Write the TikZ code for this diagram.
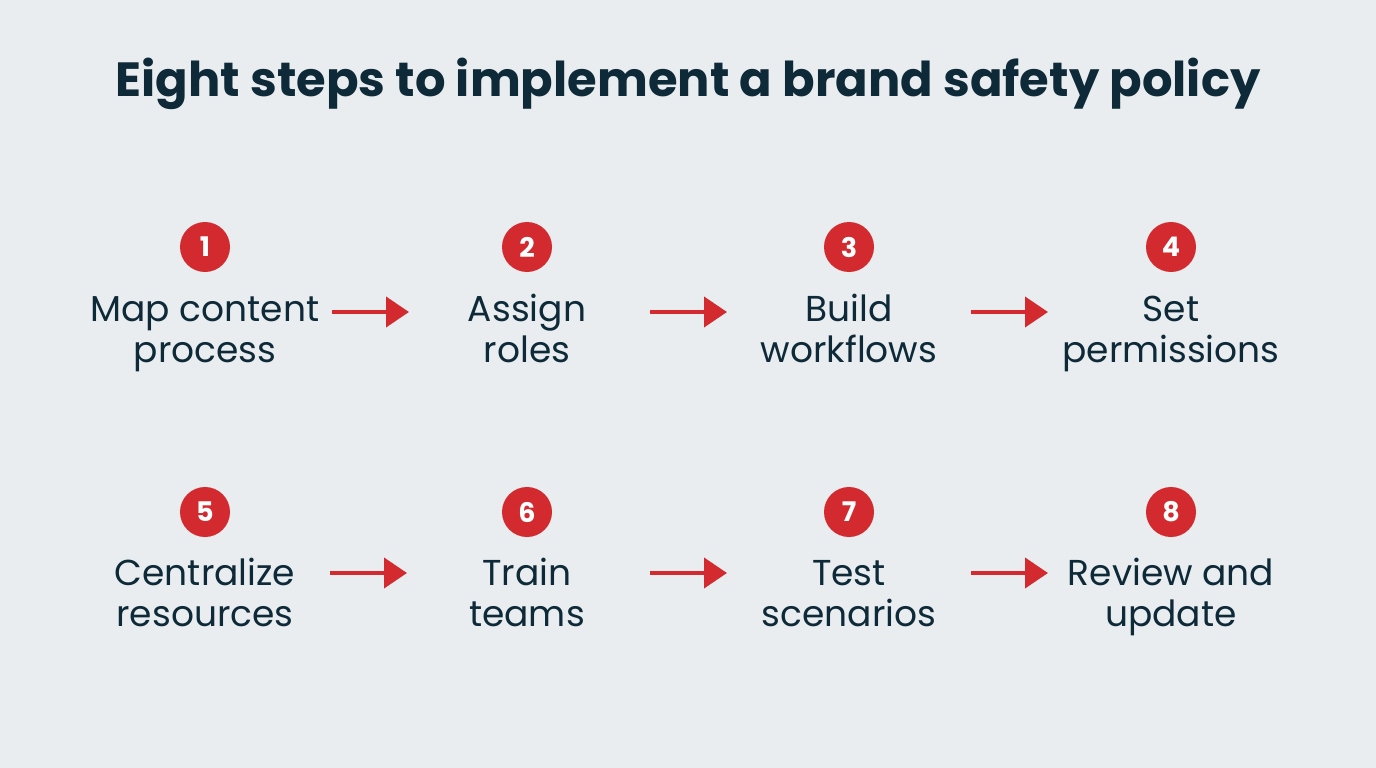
\documentclass[tikz,border=0pt]{standalone}
\usepackage{fontspec}
\setmainfont{Poppins}
\usetikzlibrary{arrows.meta}
\definecolor{bg}{HTML}{E9EDF0}
\definecolor{ink}{HTML}{0E2A38}
\definecolor{stepred}{HTML}{D22A2E}
\newcommand{\toplinestrut}{\rule{0pt}{30pt}}
\newcommand{\botlinestrut}{\rule[-12pt]{0pt}{12pt}}
\tikzset{
  numdot/.style={circle, fill=stepred, minimum size=50pt, inner sep=0pt, text=white, font=\fontsize{27}{27}\selectfont\bfseries},
  steplabel/.style={text=ink, align=center, anchor=north, font=\fontsize{36}{41}\selectfont, inner sep=0pt},
  steparrow/.style={draw=stepred, line width=4pt, -{Triangle[length=23pt,width=30pt]}}
}
\begin{document}
\begin{tikzpicture}[x=1pt,y=-1pt]
\fill[bg] (0,0) rectangle (1376,768);
\useasboundingbox (0,0) rectangle (1376,768);
\node[text=ink, anchor=base, inner sep=0pt, font=\fontsize{48}{48}\selectfont\bfseries] (title) at (688,96) {Eight steps to implement a brand safety policy};
% row 1
\node[numdot] (n1) at (205,247) {1};
\node[numdot] (n2) at (527,247) {2};
\node[numdot] (n3) at (849,247) {3};
\node[numdot] (n4) at (1171,247) {4};
\node[steplabel] (l1) at (205,291) {\toplinestrut Map content\\process\botlinestrut};
\node[steplabel] (l2) at (527,291) {\toplinestrut Assign\\roles\botlinestrut};
\node[steplabel] (l3) at (849,291) {\toplinestrut Build\\workflows\botlinestrut};
\node[steplabel] (l4) at (1171,291) {\toplinestrut Set\\permissions\botlinestrut};
% row 2
\node[numdot] (n5) at (205,512) {5};
\node[numdot] (n6) at (527,512) {6};
\node[numdot] (n7) at (849,512) {7};
\node[numdot] (n8) at (1171,512) {8};
\node[steplabel] (l5) at (205,555) {\toplinestrut Centralize\\resources\botlinestrut};
\node[steplabel] (l6) at (527,555) {\toplinestrut Train\\teams\botlinestrut};
\node[steplabel] (l7) at (849,555) {\toplinestrut Test\\scenarios\botlinestrut};
\node[steplabel] (l8) at (1171,555) {\toplinestrut Review and\\update\botlinestrut};
% arrow ends
\coordinate (a1s) at (332,312); \coordinate (a1e) at (409,312);
\coordinate (a2s) at (650,312); \coordinate (a2e) at (727,312);
\coordinate (a3s) at (971,312); \coordinate (a3e) at (1048,312);
\coordinate (a5s) at (330,573); \coordinate (a5e) at (407,573);
\coordinate (a6s) at (650,573); \coordinate (a6e) at (727,573);
\coordinate (a7s) at (971,573); \coordinate (a7e) at (1048,573);
\draw[steparrow] (a1s) -- (a1e);
\draw[steparrow] (a2s) -- (a2e);
\draw[steparrow] (a3s) -- (a3e);
\draw[steparrow] (a5s) -- (a5e);
\draw[steparrow] (a6s) -- (a6e);
\draw[steparrow] (a7s) -- (a7e);
\end{tikzpicture}
\end{document}
